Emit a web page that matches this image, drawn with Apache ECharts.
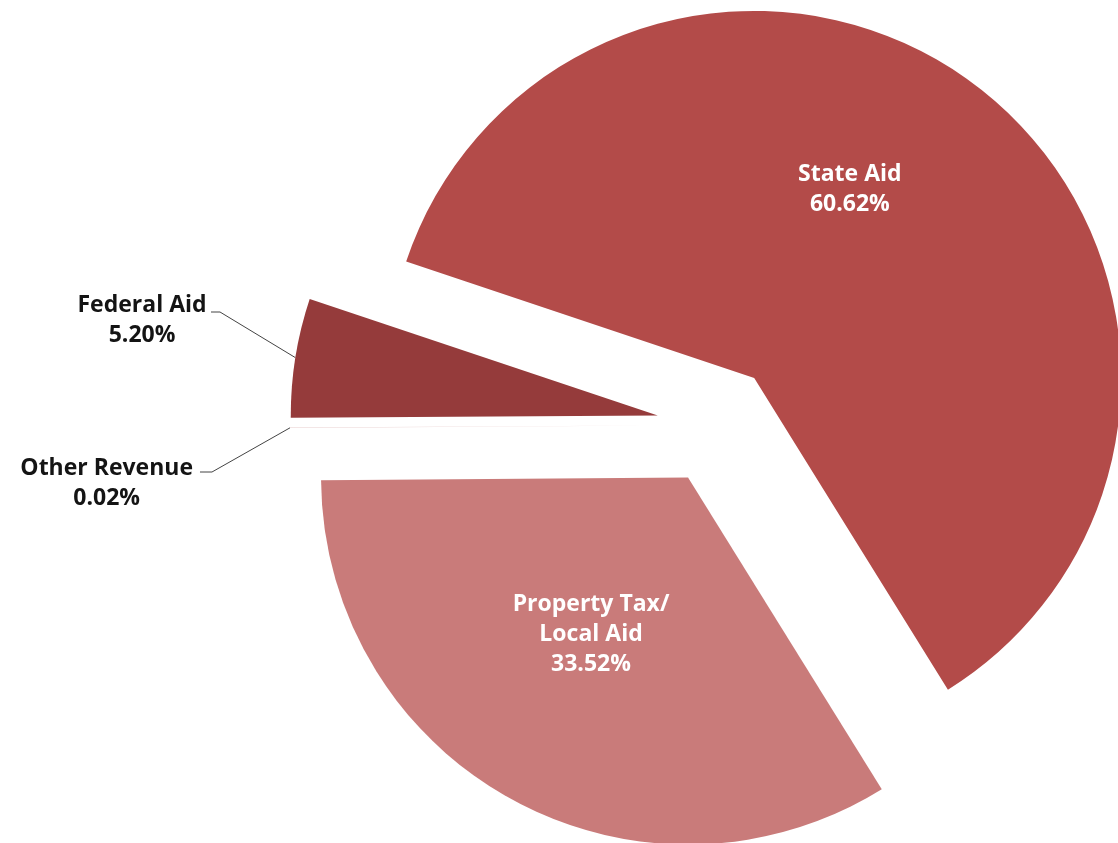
<!DOCTYPE html>
<html><head><meta charset="utf-8">
<script src="https://cdn.jsdelivr.net/npm/echarts@6/dist/echarts.min.js"></script>
<style>html,body{margin:0;padding:0;background:#fff}#c{width:1118px;height:843px}</style>
</head><body><div id="c"></div>
<script>
const categories = ['State Aid', 'Property Tax/\nLocal Aid', 'Other Revenue', 'Federal Aid'];
const shares = [60.62, 33.52, 0.02, 5.20];
const colors = ['#B34B49', '#C97B7A', '#E6CACA', '#953B3B'];
const insideLabel = [true, true, false, false];

const FONT = '"Open Sans", "DejaVu Sans", sans-serif';
const START_ANGLE = 161.5;
const EXPLODE = 60;

// mid angle of each slice, used to know the translation applied to each exploded slice
const total = shares.reduce(function (a, b) { return a + b; }, 0);
let acc = START_ANGLE;
const midAngles = shares.map(function (v) {
  const span = v / total * 360;
  const m = acc - span / 2;
  acc -= span;
  return m;
});
function hostOffset(i) {
  const r = midAngles[i] * Math.PI / 180;
  return [EXPLODE * Math.cos(r), -EXPLODE * Math.sin(r)];
}

// leader line: start on the arc, bend point and end point near the text (page coordinates)
function outside(p, i, dx, dy, bend, end) {
  const res = { dx: dx, dy: dy };
  if (p.labelLinePoints && p.labelLinePoints.length) {
    const s = p.labelLinePoints[0];
    const o = hostOffset(i);
    res.labelLinePoints = [
      [s[0], s[1]],
      [bend[0] - o[0], bend[1] - o[1]],
      [end[0] - o[0], end[1] - o[1]]
    ];
  }
  return res;
}

const data = categories.map(function (name, i) {
  const inside = insideLabel[i];
  return {
    name: name,
    value: shares[i],
    selected: true,
    itemStyle: { color: colors[i], borderWidth: 0 },
    select: { itemStyle: { color: colors[i], borderWidth: 0 } },
    label: {
      show: true,
      position: inside ? 'inside' : 'outside',
      formatter: function (p) {
        const lines = p.name.split('\n').concat([p.value.toFixed(2) + '%']);
        return lines.map(function (l) { return '{t|' + l + '}'; }).join('\n');
      },
      rich: {
        t: {
          align: 'center',
          color: inside ? '#ffffff' : '#141414',
          fontFamily: FONT,
          fontWeight: 'bold',
          fontSize: 23,
          lineHeight: 30
        }
      }
    },
    labelLine: {
      show: !inside,
      lineStyle: { color: '#444444', width: 1 }
    }
  };
});

const chart = echarts.init(document.getElementById('c'), null, { renderer: 'canvas' });
chart.setOption({
  animation: false,
  backgroundColor: '#ffffff',
  series: [{
    type: 'pie',
    center: [717, 425],
    radius: 367,
    startAngle: START_ANGLE,
    clockwise: true,
    selectedMode: 'multiple',
    selectedOffset: EXPLODE,
    avoidLabelOverlap: false,
    emphasis: { disabled: true },
    label: { fontFamily: FONT },
    labelLine: { length: 20, length2: 10 },
    labelLayout: function (p) {
      switch (p.dataIndex) {
        case 0: return { dx: -20, dy: -42 };
        case 1: return { dx: -7, dy: -6 };
        case 2: return outside(p, 2, -62, 56, [212, 472], [200, 472]);
        case 3: return outside(p, 3, -54, -34, [220, 312], [211, 312]);
      }
      return {};
    },
    data: data
  }]
});
</script></body></html>
